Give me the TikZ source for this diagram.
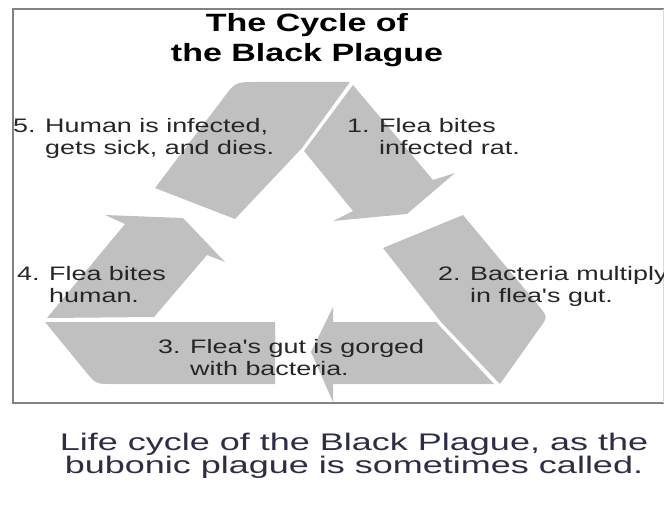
\documentclass[tikz,border=0pt]{standalone}
\usepackage{amsmath}
\usepackage{tikz}
\usepackage{xcolor}
\usepackage{fontspec}
\setmainfont{Liberation Sans}
\newfontfamily\titlefont{Liberation Sans}[FakeStretch=1.36]
\newfontfamily\labelfont{Liberation Sans}[FakeStretch=1.38]
\newfontfamily\captionfont{Liberation Sans}[FakeStretch=1.5]
\definecolor{arrowgray}{RGB}{192,192,192}
\definecolor{framegray}{RGB}{130,130,130}
\definecolor{captionblue}{RGB}{45,45,70}
\newcommand{\stagelbl}[3]{\begin{tabular}[t]{@{}l@{}}\makebox[32pt][l]{#1}#2\\\hspace*{32pt}#3\end{tabular}}

\begin{document}
\begin{tikzpicture}[x=1pt, y=-1pt,
  band/.style={fill=arrowgray},
  stage/.style={anchor=base west, inner sep=0pt, text=black!85, font=\labelfont\fontsize{19.5}{22}\selectfont}]
  \useasboundingbox (0,0) rectangle (664,516);
  \draw[line width=2pt, color=framegray] (664,9) -- (13,9) -- (13,403) -- (664,403); % frame
  \draw[line width=1pt, color=framegray!30] (663,9) -- (663,403); % right edge
  \fill[band] (155,188) -- (222,100) .. controls (235,82) .. (257,82) -- (350,82) -- (302,148) -- (235,219) -- cycle; % top band
  \fill[band] (353,85) -- (433,180) -- (455,173) -- (407,214) -- (333,221) -- (353,211) -- (304,151) -- cycle; % arrow to 1
  \fill[band] (383,248) -- (463,215) -- (538,305) .. controls (548,317) .. (539,329) -- (500,384) -- (441,322) -- cycle; % right band
  \fill[band] (436,322) -- (333,322) -- (333,307) -- (311,352) -- (333,402) -- (333,384) -- (494,384) -- cycle; % arrow to 3
  \fill[band] (45,322) -- (275,322) -- (275,384) -- (112,384) .. controls (96,384) .. (86,372) -- cycle; % bottom band
  \fill[band] (47,318) -- (125,224) -- (105,215) -- (183,218) -- (225,262) -- (207,255) -- (154,317) -- cycle; % arrow to 4
  \node[anchor=base, inner sep=0pt, font=\titlefont\bfseries\fontsize{25}{30}\selectfont] (title) at (307,32)
    {\begin{tabular}[t]{@{}c@{}}The Cycle of\\the Black Plague\end{tabular}};
  \node[stage] (stepfive) at (13,133) {\stagelbl{5.}{Human is infected,}{gets sick, and dies.}};
  \node[stage] (stepone) at (347,133) {\stagelbl{1.}{Flea bites}{infected rat.}};
  \node[stage] (steptwo) at (438,280) {\stagelbl{2.}{Bacteria multiply}{in flea's gut.}};
  \node[stage] (stepthree) at (158,353) {\stagelbl{3.}{Flea's gut is gorged}{with bacteria.}};
  \node[stage] (stepfour) at (17,280) {\stagelbl{4.}{Flea bites}{human.}};
  \node[anchor=base, inner sep=0pt, text=captionblue, font=\captionfont\fontsize{24}{22}\selectfont] (caption) at (354,450)
    {\begin{tabular}[t]{@{}c@{}}Life cycle of the Black Plague, as the\\bubonic plague is sometimes called.\end{tabular}};
\end{tikzpicture}
\end{document}
